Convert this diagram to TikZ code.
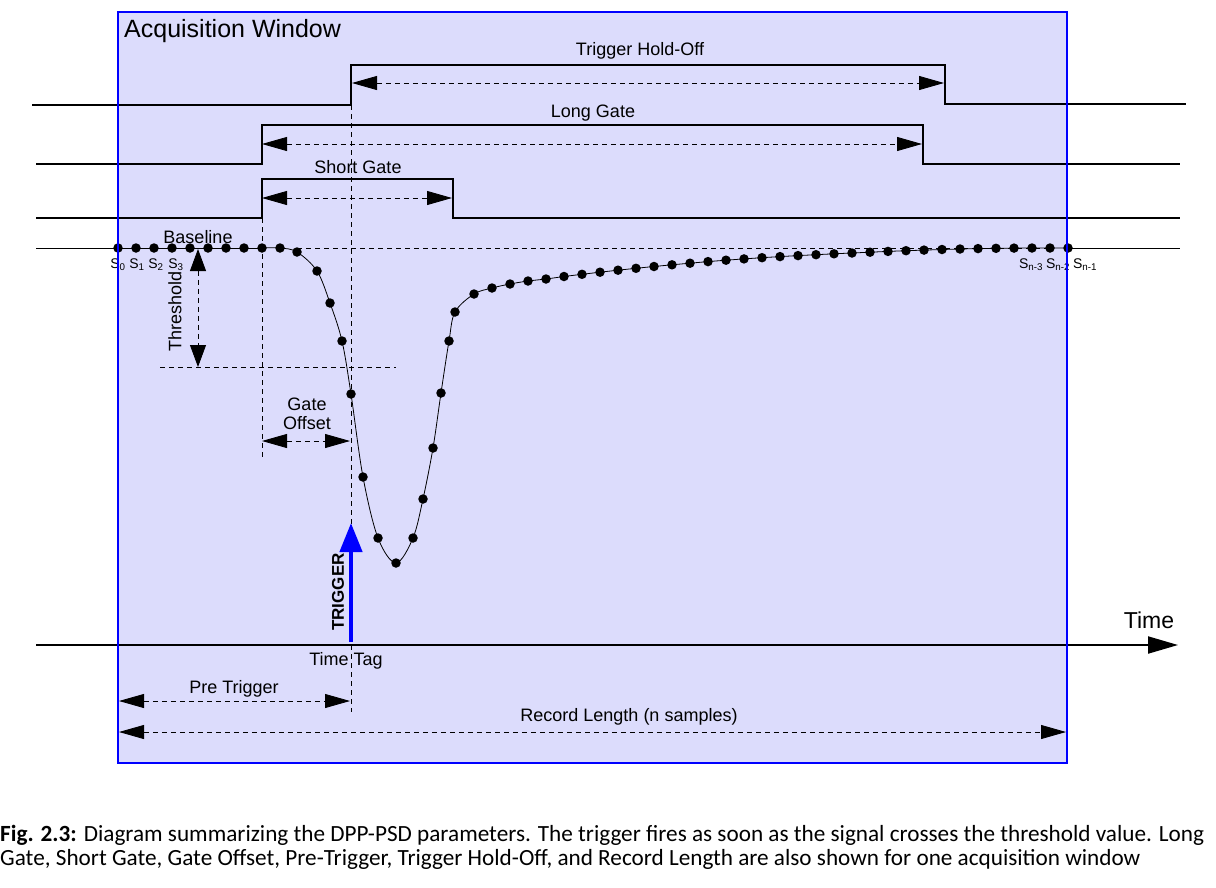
\documentclass[tikz,border=0pt]{standalone}
\usepackage{fontspec}
\setmainfont{Liberation Sans}
\newfontfamily\capfont{Carlito}
\usetikzlibrary{arrows.meta}
\definecolor{winfill}{RGB}{220,220,252}
\definecolor{winblue}{RGB}{0,0,255}
\begin{document}
\begin{tikzpicture}[x=1pt,y=-1pt,
  font=\fontsize{18}{21}\selectfont,
  sig/.style={line width=2pt, line join=miter},
  guide/.style={line width=0.8pt, dash pattern=on 5pt off 4pt},
  dim/.style={guide, {Triangle[length=25pt,width=14pt]}-{Triangle[length=25pt,width=14pt]}},
  thr/.style={guide, {Triangle[length=22pt,width=16pt]}-{Triangle[length=22pt,width=16pt]}},
  smp/.style={circle, fill=black, inner sep=0pt, minimum size=9.5pt},
  lbl/.style={inner sep=0pt},
  slbl/.style={inner sep=0pt, font=\fontsize{14}{16}\selectfont}]
\useasboundingbox (0,0) rectangle (1216,887);
% acquisition window fill
\fill[winfill] (118,12) rectangle (1067,763);
% key coordinates
\coordinate (hoL) at (32,105);   \coordinate (hoR) at (1186,104);
\coordinate (lgL) at (36,164);   \coordinate (lgR) at (1180,164);
\coordinate (sgL) at (36,218);   \coordinate (sgR) at (1180,218);
\coordinate (blL) at (36,248);   \coordinate (blR) at (1180,248);
% guide lines
\coordinate (g1a) at (262,218); \coordinate (g1b) at (262,458);
\coordinate (g2a) at (351,105); \coordinate (g2b) at (351,712);
\coordinate (tha) at (160,367); \coordinate (thb) at (396,367);
\coordinate (bda) at (297,248); \coordinate (bdb) at (1050,248);
\draw[guide] (g1a) -- (g1b);
\draw[guide] (g2a) -- (g2b);
\draw[guide] (tha) -- (thb);
\draw[guide] (bda) -- (bdb);
% gate signals
\draw[sig] (hoL) -- (351,105) -- (351,65) -- (945,65) -- (945,104) -- (hoR);
\draw[sig] (lgL) -- (262,164) -- (262,125) -- (923,125) -- (923,164) -- (lgR);
\draw[sig] (sgL) -- (262,218) -- (262,179) -- (453,179) -- (453,218) -- (sgR);
% dimension arrows
\coordinate (hoa) at (352,83);  \coordinate (hob) at (944,83);
\coordinate (lga) at (262,144); \coordinate (lgb) at (922,144);
\coordinate (sga) at (262,198); \coordinate (sgb) at (452,198);
\coordinate (tra) at (198,249); \coordinate (trb) at (198,367);
\coordinate (goa) at (262,441); \coordinate (gob) at (350,441);
\coordinate (pta) at (119,701); \coordinate (ptb) at (350,701);
\coordinate (rla) at (119,732); \coordinate (rlb) at (1066,732);
\draw[dim] (hoa) -- (hob);
\draw[dim] (lga) -- (lgb);
\draw[dim] (sga) -- (sgb);
\draw[thr] (tra) -- (trb);
\draw[dim] (goa) -- (gob);
\draw[dim] (pta) -- (ptb);
\draw[dim] (rla) -- (rlb);
% signal
\draw[line width=0.8pt] (blL) -- (262,248);
\draw[line width=0.8pt] plot[smooth, tension=0.55] coordinates {
 (262,248) (280,248) (297,252) (317,271) (330,303) (342,341) (351,394) (363,477)
 (378,538) (396,563) (413,538) (423,499) (433,448) (441,393) (449,341) (455,312)
 (474,294) (492,288) (510,284) (528,281) (546,279) (564,276.5) (582,274.3) (600,272.2)
 (618,270.2) (636,268.3) (654,266.5) (672,264.8) (690,263.2) (708,261.6) (726,260.2)
 (744,258.9) (762,257.7) (780,256.6) (798,255.6) (816,254.7) (834,253.8) (852,253)
 (870,252.2) (888,251.4) (906,250.7) (924,250.1) (942,249.5) (960,249) (978,248.6)
 (996,248.3) (1014,248.1) (1032,248) (1050,248) (1068,248)};
\draw[line width=0.8pt] (1068,248) -- (blR);
% samples
\foreach \px/\py [count=\i] in {118/248,136/248,154/248,172/248,190/248,208/248,226/248,244/248,262/248,280/248,
 297/252,317/271,330/303,342/341,351/394,363/477,378/538,396/563,413/538,423/499,433/448,441/393,449/341,455/312,
 474/294,492/288,510/284,528/281,546/279,564/276.5,582/274.3,600/272.2,618/270.2,636/268.3,654/266.5,672/264.8,
 690/263.2,708/261.6,726/260.2,744/258.9,762/257.7,780/256.6,798/255.6,816/254.7,834/253.8,852/253,870/252.2,
 888/251.4,906/250.7,924/250.1,942/249.5,960/249,978/248.6,996/248.3,1014/248.1,1032/248,1050/248,1068/248}
 { \node[smp] (s\i) at (\px,\py) {}; }
% axis and trigger
\coordinate (axa) at (36,645); \coordinate (axb) at (1178,645);
\draw[line width=2pt, -{Triangle[length=30pt,width=17pt]}] (axa) -- (axb);
\coordinate (tga) at (351,642); \coordinate (tgb) at (351,523);
\draw[winblue, line width=4.5pt, -{Triangle[length=29pt,width=22pt]}] (tga) -- (tgb);
% labels
\node[lbl, anchor=west, font=\fontsize{25}{29}\selectfont] (acq) at (124,31) {Acquisition Window};
\node[lbl] (lho) at (640,51) {Trigger Hold-Off};
\node[lbl] (llg) at (593,113) {Long Gate};
\node[lbl] (lsg) at (358,167) {Short Gate};
\node[lbl] (lbl1) at (198,237) {Baseline};
\node[lbl, rotate=90] (lth) at (175,311) {Threshold};
\node[lbl, align=center, font=\fontsize{18}{19}\selectfont] (lgo) at (307,414) {Gate\\Offset};
\node[lbl, rotate=90, font=\bfseries\fontsize{17}{20}\selectfont] (ltr) at (338,592) {TRIGGER};
\node[lbl, font=\fontsize{23}{26}\selectfont] (ltime) at (1149,620) {Time};
\node[lbl] (ltt) at (346,661) {Time Tag};
\node[lbl] (lpt) at (234,689) {Pre Trigger};
\node[lbl] (lrl) at (629,717) {Record Length (n samples)};
\node[slbl] (ls0) at (118,265) {S\textsubscript{0}};
\node[slbl] (ls1) at (137,265) {S\textsubscript{1}};
\node[slbl] (ls2) at (156,265) {S\textsubscript{2}};
\node[slbl] (ls3) at (176,265) {S\textsubscript{3}};
\node[slbl] (lsa) at (1031,265) {S\textsubscript{n-3}};
\node[slbl] (lsb) at (1058,265) {S\textsubscript{n-2}};
\node[slbl] (lsc) at (1085,265) {S\textsubscript{n-1}};
% window border
\draw[winblue, line width=2.5pt] (118,12) rectangle (1067,763);
% caption
\node[lbl, anchor=west, align=left, font=\capfont\fontsize{23.2}{24}\selectfont] (cap) at (0,847)
 {\textbf{Fig. 2.3:} Diagram summarizing the DPP-PSD parameters. The trigger fires as soon as the signal crosses the threshold value. Long\\
 Gate, Short Gate, Gate Offset, Pre-Trigger, Trigger Hold-Off, and Record Length are also shown for one acquisition window};
\end{tikzpicture}
\end{document}
